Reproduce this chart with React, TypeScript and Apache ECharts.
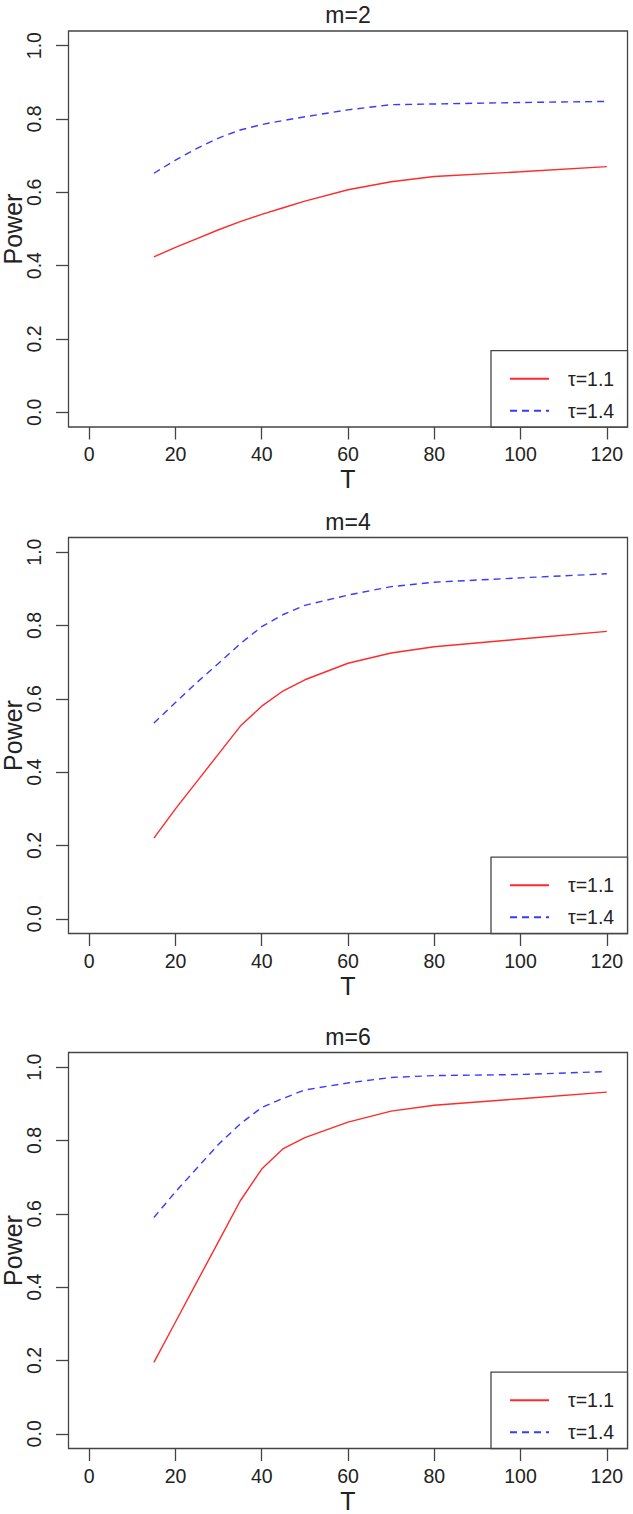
import React, { useEffect, useRef } from "react";
import * as echarts from "echarts";

const T_VALUES = [15, 20, 25, 30, 35, 40, 45, 50, 60, 70, 80, 100, 120];
const PANEL_TITLES = ["m=2", "m=4", "m=6"];
const SERIES_NAMES = ["τ=1.1", "τ=1.4"];
const X_TICKS = [0, 20, 40, 60, 80, 100, 120];
const Y_TICKS = [0, 0.2, 0.4, 0.6, 0.8, 1.0];

const m2_tau11 = [0.424, 0.45, 0.474, 0.498, 0.52, 0.54, 0.558, 0.576, 0.607, 0.629, 0.643, 0.656, 0.67];
const m2_tau14 = [0.652, 0.688, 0.72, 0.748, 0.77, 0.785, 0.796, 0.806, 0.825, 0.839, 0.841, 0.845, 0.848];
const m4_tau11 = [0.22, 0.3, 0.375, 0.45, 0.525, 0.58, 0.622, 0.652, 0.697, 0.725, 0.742, 0.763, 0.784];
const m4_tau14 = [0.534, 0.59, 0.645, 0.697, 0.75, 0.797, 0.83, 0.855, 0.883, 0.906, 0.918, 0.93, 0.941];
const m6_tau11 = [0.195, 0.305, 0.415, 0.525, 0.635, 0.722, 0.778, 0.808, 0.85, 0.88, 0.896, 0.914, 0.932];
const m6_tau14 = [0.59, 0.66, 0.725, 0.79, 0.845, 0.89, 0.915, 0.938, 0.957, 0.972, 0.977, 0.98, 0.988];

const PANELS = [
  [m2_tau11, m2_tau14],
  [m4_tau11, m4_tau14],
  [m6_tau11, m6_tau14],
];

const FONT = "Liberation Sans, Arial, sans-serif";
const INK = "#222";
const FRAME = "#444";
const RED = "#ff2a2a";
const BLUE = "#3a3aff";

export default function App() {
  const ref = useRef<HTMLDivElement>(null);

  useEffect(() => {
    document.body.style.margin = "0";
    if (!ref.current) return;
    const chart = echarts.init(ref.current, null, { renderer: "svg" });

    const gridTops = [31, 537.5, 1052.5];
    const gridLeft = 68.5;
    const gridRight = 5.5;
    const gridH = 396;
    const boxRight = 633 - gridRight;

    const grids: any[] = [];
    const xAxes: any[] = [];
    const yAxes: any[] = [];
    const titles: any[] = [];
    const legends: any[] = [];
    const series: any[] = [];
    const graphics: any[] = [];

    gridTops.forEach((top, i) => {
      grids.push({
        left: gridLeft,
        right: gridRight,
        top,
        height: gridH,
        show: true,
        borderColor: FRAME,
        borderWidth: 1.3,
        backgroundColor: "transparent",
        containLabel: false,
        outerBoundsMode: "none",
      });
      xAxes.push({
        type: "value",
        gridIndex: i,
        min: -4.8,
        max: 124.8,
        name: "T",
        nameLocation: "middle",
        nameGap: 41,
        nameTextStyle: { fontFamily: FONT, fontSize: 25, color: INK, lineHeight: 22 },
        axisLine: { show: false, onZero: false },
        splitLine: { show: false },
        axisTick: {
          show: true,
          length: 12.5,
          customValues: X_TICKS,
          lineStyle: { color: FRAME, width: 1.3 },
        },
        axisLabel: {
          show: true,
          customValues: X_TICKS,
          margin: 17,
          fontFamily: FONT,
          fontSize: 19.5,
          color: INK,
          formatter: (v: number) => String(v),
        },
      });
      yAxes.push({
        type: "value",
        gridIndex: i,
        min: -0.04,
        max: 1.04,
        name: "Power",
        nameLocation: "middle",
        nameGap: 45,
        nameRotate: 90,
        nameMoveOverlap: false,
        nameTextStyle: { fontFamily: FONT, fontSize: 25, color: INK, lineHeight: 22 },
        axisLine: { show: false, onZero: false },
        splitLine: { show: false },
        axisTick: {
          show: true,
          length: 12.5,
          customValues: Y_TICKS,
          lineStyle: { color: FRAME, width: 1.3 },
        },
        axisLabel: {
          show: true,
          customValues: Y_TICKS,
          rotate: 90,
          margin: 25,
          fontFamily: FONT,
          fontSize: 19.5,
          color: INK,
          formatter: (v: number) => v.toFixed(1),
        },
      });
      titles.push({
        text: PANEL_TITLES[i],
        left: (gridLeft + boxRight) / 2,
        top: top - 27.5,
        textAlign: "center",
        padding: 0,
        textStyle: { fontFamily: FONT, fontSize: 23, fontWeight: "normal", color: INK, lineHeight: 23 },
      });

      const legendTop = top + gridH - 76.3;
      graphics.push({
        type: "rect",
        shape: { x: 491, y: legendTop, width: boxRight - 491, height: 76.3 },
        style: { fill: "#fff", stroke: FRAME, lineWidth: 1.3 },
        z: 5,
      });
      legends.push({
        orient: "vertical",
        left: 509,
        top: legendTop + 18,
        padding: 0,
        itemWidth: 39,
        itemHeight: 14,
        itemGap: 12,
        z: 10,
        data: SERIES_NAMES,
        itemStyle: { opacity: 0 },
        textStyle: { fontFamily: FONT, fontSize: 19.5, color: INK, padding: [0, 0, 0, 14] },
      });

      PANELS[i].forEach((vals, j) => {
        series.push({
          name: SERIES_NAMES[j],
          type: "line",
          xAxisIndex: i,
          yAxisIndex: i,
          symbol: "none",
          showSymbol: false,
          silent: true,
          z: 3,
          color: j === 0 ? RED : BLUE,
          lineStyle: {
            color: j === 0 ? RED : BLUE,
            width: 1.4,
            type: j === 0 ? "solid" : [7, 5],
          },
          data: T_VALUES.map((t, k) => [t, vals[k]]),
        });
      });
    });

    chart.setOption({
      animation: false,
      backgroundColor: "#fff",
      title: titles,
      grid: grids,
      xAxis: xAxes,
      yAxis: yAxes,
      legend: legends,
      graphic: graphics,
      series,
    });

    return () => chart.dispose();
  }, []);

  return <div ref={ref} style={{ width: 633, height: 1514 }} />;
}
